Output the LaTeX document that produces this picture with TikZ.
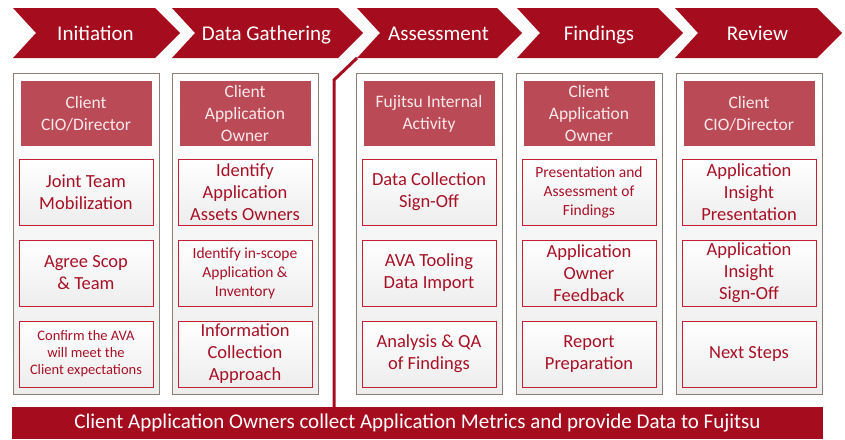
\documentclass[tikz,border=0pt]{standalone}
\usepackage{fontspec}
\setmainfont{Carlito}
\definecolor{fujired}{RGB}{165,13,30}
\definecolor{headred}{RGB}{186,74,86}
\definecolor{headtext}{RGB}{250,232,234}
\definecolor{itemred}{RGB}{196,32,52}
\definecolor{itemtext}{RGB}{168,16,38}
\definecolor{colgray}{RGB}{140,128,118}
\newcommand{\mychev}[4]{%
  \fill[fujired] (#1,8) -- (#2,8) -- (#2+25,33) -- (#2,58) -- (#1,58) -- (#1+23,33) -- cycle;
  \node[chevtext] (#3) at ({(#1+23+#2)/2},40) {#4};}
\begin{document}
\begin{tikzpicture}[x=1pt,y=-1pt,
  chevtext/.style={text=white, font=\fontsize{21}{25}\selectfont, inner sep=0pt, anchor=base},
  colbox/.style={draw=colgray, line width=0.9pt, top color=white, bottom color=black!7,
    minimum width=146pt, minimum height=321pt, anchor=north west, inner sep=0pt},
  headbox/.style={fill=headred, text=headtext, minimum width=131pt, minimum height=65pt,
    inner sep=0pt, align=center, font=\fontsize{17.5}{22}\selectfont},
  itembox/.style={draw=itemred, line width=0.9pt, top color=white, bottom color=black!7,
    text=itemtext, minimum width=134pt, minimum height=66pt, inner sep=0pt, align=center,
    font=\fontsize{18.5}{22}\selectfont},
  smalltxt/.style={font=\fontsize{14.5}{17}\selectfont},
  midtxt/.style={font=\fontsize{15.5}{19}\selectfont},
  bar/.style={fill=fujired, text=white, minimum width=811pt, minimum height=32pt,
    inner sep=0pt, text height=15pt, text depth=4pt, font=\fontsize{21}{24}\selectfont},
  divider/.style={draw=fujired, line width=3pt}]
\useasboundingbox (0,0) rectangle (845,439);

% chevrons
\mychev{13}{155}{ch1}{Initiation}
\mychev{172}{338}{ch2}{Data Gathering}
\mychev{357}{497}{ch3}{Assessment}
\mychev{517}{658}{ch4}{Findings}
\mychev{675}{817}{ch5}{Review}

% bottom bar
\node[bar] (bar) at (417.5,423) {Client Application Owners collect Application Metrics and provide Data to Fujitsu};

% divider
\coordinate (dtop) at (357,58);
\coordinate (dbend) at (334,80);
\draw[divider] (dtop) -- (dbend) -- (dbend |- bar.north);

% columns
\node[colbox] (col1) at (13,73) {};
\node[colbox] (col2) at (172,73) {};
\node[colbox] (col3) at (356,73) {};
\node[colbox] (col4) at (516,73) {};
\node[colbox] (col5) at (676,73) {};

% headers
\node[headbox] (h1) at (86,113.5) {Client\\CIO/Director};
\node[headbox] (h2) at (245,113.5) {Client\\Application\\Owner};
\node[headbox] (h3) at (429,113.5) {Fujitsu Internal\\Activity};
\node[headbox] (h4) at (589,113.5) {Client\\Application\\Owner};
\node[headbox] (h5) at (749,113.5) {Client\\CIO/Director};

% items column 1
\node[itembox] (a1) at (86,192) {Joint Team\\Mobilization};
\node[itembox] (a2) at (86,273) {Agree Scop\\\& Team};
\node[itembox, smalltxt] (a3) at (86,354) {Confirm the AVA\\will meet the\\Client expectations};
% column 2
\node[itembox] (b1) at (245,192) {Identify\\Application\\Assets Owners};
\node[itembox, midtxt] (b2) at (245,273) {Identify in-scope\\Application \&\\Inventory};
\node[itembox] (b3) at (245,354) {Information\\Collection\\Approach};
% column 3
\node[itembox] (c1) at (429,192) {Data Collection\\Sign-Off};
\node[itembox] (c2) at (429,273) {AVA Tooling\\Data Import};
\node[itembox] (c3) at (429,354) {Analysis \& QA\\of Findings};
% column 4
\node[itembox, midtxt] (d1) at (589,192) {Presentation and\\Assessment of\\Findings};
\node[itembox] (d2) at (589,273) {Application\\Owner\\Feedback};
\node[itembox] (d3) at (589,354) {Report\\Preparation};
% column 5
\node[itembox] (e1) at (749,192) {Application\\Insight\\Presentation};
\node[itembox] (e2) at (749,273) {Application\\Insight\\Sign-Off};
\node[itembox] (e3) at (749,354) {Next Steps};
\end{tikzpicture}
\end{document}
